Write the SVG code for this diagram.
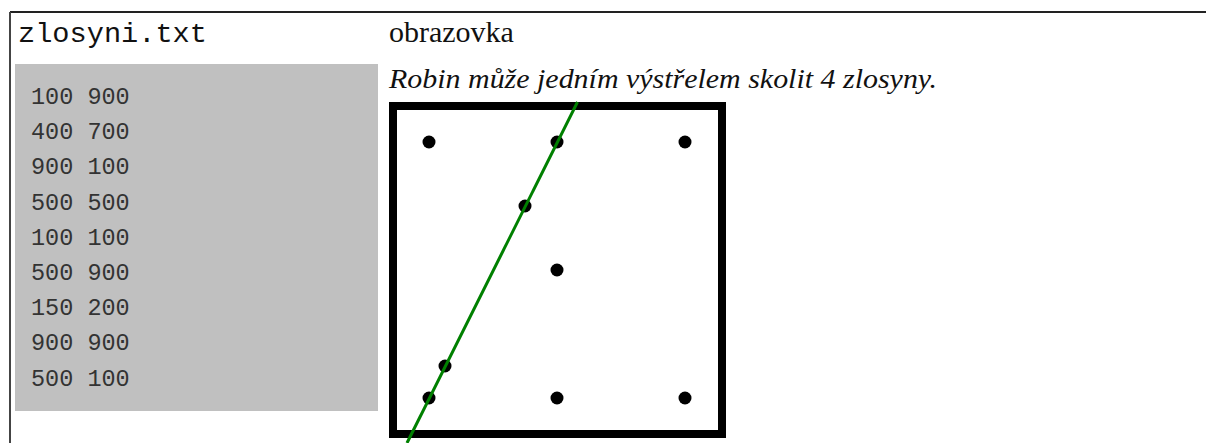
<svg xmlns="http://www.w3.org/2000/svg" width="1206" height="443" viewBox="0 0 1206 443">
<style>
.hdr{font-family:"Liberation Mono",monospace;font-size:28px;fill:#111}
.ttl{font-family:"Liberation Serif",serif;font-size:30px;fill:#111}
.cap{font-family:"Liberation Serif",serif;font-style:italic;font-size:27px;fill:#111}
.num{font-family:"Liberation Mono",monospace;font-size:23.5px;fill:#333}
.dot{fill:#000}
</style>
<g id="table">
<line x1="10" y1="12" x2="1206" y2="12" stroke="#222" stroke-width="2"/>
<line x1="10" y1="12" x2="10" y2="443" stroke="#444" stroke-width="2"/>
</g>
<g id="file">
<text class="hdr" x="18" y="42" textLength="189" lengthAdjust="spacingAndGlyphs">zlosyni.txt</text>
<rect x="15" y="64" width="363" height="347" fill="#c0c0c0"/>
<g class="num">
<text x="31" y="104">100 900</text>
<text x="31" y="139.2">400 700</text>
<text x="31" y="174.4">900 100</text>
<text x="31" y="209.6">500 500</text>
<text x="31" y="244.8">100 100</text>
<text x="31" y="280">500 900</text>
<text x="31" y="315.2">150 200</text>
<text x="31" y="350.4">900 900</text>
<text x="31" y="385.6">500 100</text>
</g>
</g>
<g id="screen">
<text class="ttl" x="389" y="42">obrazovka</text>
<text class="cap" x="389" y="88" textLength="548" lengthAdjust="spacingAndGlyphs">Robin může jedním výstřelem skolit 4 zlosyny.</text>
<rect x="393" y="106" width="329" height="328" fill="#fff" stroke="#000" stroke-width="8"/>
<g id="points">
<circle class="dot" cx="429" cy="142" r="6.5"/>
<circle class="dot" cx="557" cy="142" r="6.5"/>
<circle class="dot" cx="685" cy="142" r="6.5"/>
<circle class="dot" cx="525" cy="206" r="6.5"/>
<circle class="dot" cx="557" cy="270" r="6.5"/>
<circle class="dot" cx="445" cy="366" r="6.5"/>
<circle class="dot" cx="429" cy="398" r="6.5"/>
<circle class="dot" cx="557" cy="398" r="6.5"/>
<circle class="dot" cx="685" cy="398" r="6.5"/>
</g>
<line id="shot" x1="577.5" y1="102" x2="407" y2="443" stroke="#008000" stroke-width="3"/>
</g>
</svg>
